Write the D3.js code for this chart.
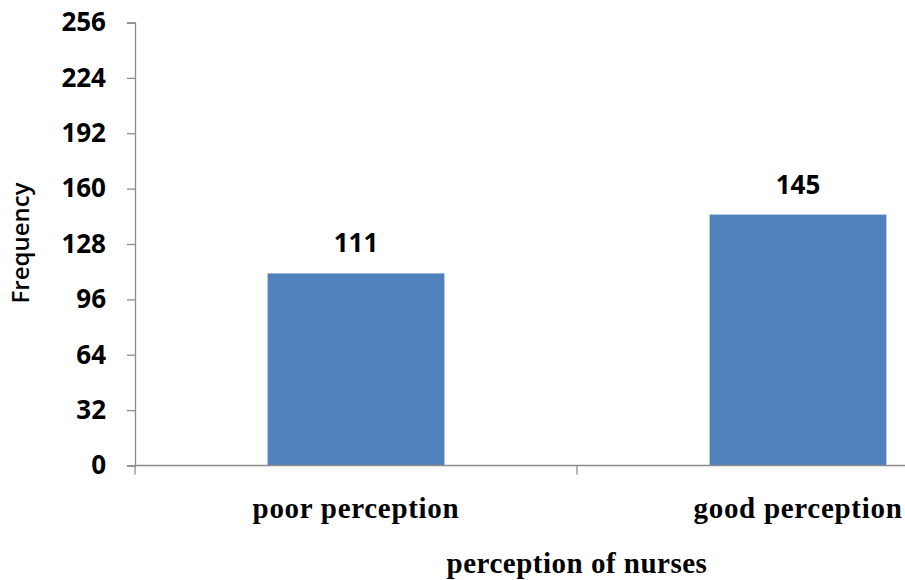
<!DOCTYPE html>
<html>
<head>
<meta charset="utf-8">
<script src="https://cdn.jsdelivr.net/npm/d3@7"></script>
<style>
  html, body { margin: 0; padding: 0; background: #fff; }
  svg { display: block; }
</style>
</head>
<body>
<svg id="chart" width="905" height="580"></svg>
<script>
// Perception of nurses: frequency per category
const categories = ["poor perception", "good perception"];
const frequencies = [111, 145];
const yTicks = [0, 32, 64, 96, 128, 160, 192, 224, 256];

const svg = d3.select("#chart");
const W = 905, H = 580;

const x0 = 135;
const bandW = 442;
const yTop = 22.5, yBottom = 465.5;

const x = d3.scaleBand()
  .domain(categories)
  .range([x0, x0 + bandW * categories.length])
  .paddingInner(0)
  .paddingOuter(0);

const y = d3.scaleLinear().domain([0, 256]).range([yBottom, yTop]);

const axisColor = "#8c8c8c";
const numFont = "'Open Sans', sans-serif";
const serifFont = "'Liberation Serif', 'Times New Roman', serif";

// bars (gap width 150%)
const barW = bandW / 2.5;
svg.append("g").selectAll("rect")
  .data(categories)
  .enter().append("rect")
  .attr("x", (d) => x(d) + (bandW - barW) / 2)
  .attr("y", (d, i) => y(frequencies[i]))
  .attr("width", barW)
  .attr("height", (d, i) => y(0) - y(frequencies[i]))
  .attr("fill", "#4f81bd");

// y axis
const yAxis = d3.axisLeft(y).tickValues(yTicks).tickSize(8).tickPadding(21).tickFormat(d3.format("d"));
const gy = svg.append("g").attr("transform", `translate(${x0},0)`).call(yAxis);
gy.select(".domain").attr("stroke", axisColor).attr("stroke-width", 1.3);
gy.selectAll(".tick line").attr("stroke", axisColor).attr("stroke-width", 1.3);
gy.selectAll(".tick text")
  .attr("fill", "#000")
  .style("font-family", numFont)
  .style("font-weight", "700")
  .style("font-size", "26px");

// x axis with ticks on category boundaries
svg.append("line")
  .attr("x1", x0).attr("x2", W)
  .attr("y1", yBottom).attr("y2", yBottom)
  .attr("stroke", axisColor).attr("stroke-width", 1.3);
const boundaries = [x0].concat(categories.map((c) => x(c) + bandW));
svg.append("g").selectAll("line")
  .data(boundaries)
  .enter().append("line")
  .attr("x1", (d) => d).attr("x2", (d) => d)
  .attr("y1", yBottom).attr("y2", yBottom + 9)
  .attr("stroke", axisColor).attr("stroke-width", 1.3);

// category labels
svg.append("g").selectAll("text")
  .data(categories)
  .enter().append("text")
  .attr("x", (d) => x(d) + bandW / 2)
  .attr("y", 518)
  .attr("text-anchor", "middle")
  .style("font-family", serifFont)
  .style("font-weight", "700")
  .style("font-size", "29px")
  .style("letter-spacing", "0.7px")
  .text((d) => d);

// value labels
svg.append("g").selectAll("text")
  .data(categories)
  .enter().append("text")
  .attr("x", (d) => x(d) + bandW / 2)
  .attr("y", (d, i) => y(frequencies[i]) - 21)
  .attr("text-anchor", "middle")
  .style("font-family", numFont)
  .style("font-weight", "700")
  .style("font-size", "26px")
  .text((d, i) => frequencies[i]);

// axis titles
svg.append("text")
  .attr("x", x0 + bandW)
  .attr("y", 573)
  .attr("text-anchor", "middle")
  .style("font-family", serifFont)
  .style("font-weight", "700")
  .style("font-size", "29px")
  .style("letter-spacing", "0.5px")
  .text("perception of nurses");

svg.append("text")
  .attr("transform", "translate(29,243) rotate(-90)")
  .attr("text-anchor", "middle")
  .style("font-family", numFont)
  .style("font-weight", "600")
  .style("font-size", "24px")
  .text("Frequency");
</script>
</body>
</html>
